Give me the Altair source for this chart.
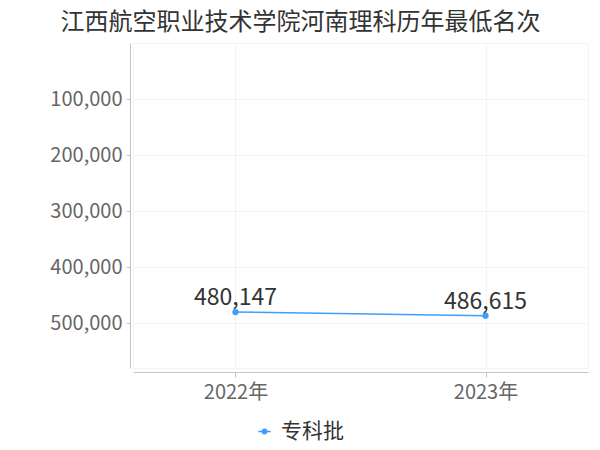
import altair as alt
import pandas as pd

years = ["2022年", "2023年"]
ranks = [480147, 486615]
batches = ["专科批", "专科批"]
y_ticks = [100000, 200000, 300000, 400000, 500000]
title_text = "江西航空职业技术学院河南理科历年最低名次"

df = pd.DataFrame({"year": years, "rank": ranks, "batch": batches})

BLUE = "#3d9eff"
FONT = "Noto Sans CJK SC"
GRID = "#f3f3f3"

x_enc = alt.X(
    "year:N", sort=years,
    scale=alt.Scale(type="point", padding=0.41),
    axis=alt.Axis(title=None, labelAngle=0, labelFontSize=20, labelColor="#666",
                  labelFont=FONT, domainColor="#c4c4c4", tickColor="#c4c4c4",
                  tickSize=5, offset=4, grid=True, gridColor=GRID, labelPadding=5),
)
y_enc = alt.Y(
    "rank:Q",
    scale=alt.Scale(domain=[0, 580000], reverse=True, nice=False, zero=False),
    axis=alt.Axis(title=None, values=y_ticks,
                  labelExpr="format(datum.value, ',.0f')", labelFontSize=20,
                  labelColor="#666", labelFont=FONT, domainColor="#c4c4c4",
                  tickColor="#c4c4c4", tickSize=4, offset=3, grid=True,
                  gridColor=GRID, labelPadding=4),
)

color_enc = alt.Color(
    "batch:N",
    scale=alt.Scale(domain=["专科批"], range=[BLUE]),
    legend=alt.Legend(title=None, orient="none", legendX=121, legendY=378,
                      labelFontSize=21, labelColor="#333", labelFont=FONT,
                      symbolType="M-1,0H1M-0.35,0a0.35,0.35 0 1,0 0.7,0a0.35,0.35 0 1,0 -0.7,0",
                      symbolSize=150, symbolStrokeWidth=1.5, symbolFillColor=BLUE,
                      symbolStrokeColor=BLUE, labelOffset=6),
)

base = alt.Chart(df).encode(x=x_enc, y=y_enc)

line = base.mark_line(strokeWidth=1.5).encode(color=color_enc)
pts = base.mark_point(filled=True, size=40, opacity=1, color=BLUE)
labels = base.mark_text(dy=-14, fontSize=23, color="#333", font=FONT).encode(
    text=alt.Text("rank:Q", format=",")
)

chart = (line + pts + labels).properties(
    width=455, height=325,
    autosize=alt.AutoSizeParams(type="none"),
    padding={"left": 125, "top": 35, "right": 4, "bottom": 74},
    title=alt.TitleParams(title_text, fontSize=24, color="#333", font=FONT,
                          fontWeight="normal", anchor="middle", frame="group",
                          dx=-60, offset=8),
).configure_view(stroke=GRID)

chart.save("out.html", embed_options={"renderer": "svg", "actions": False})
